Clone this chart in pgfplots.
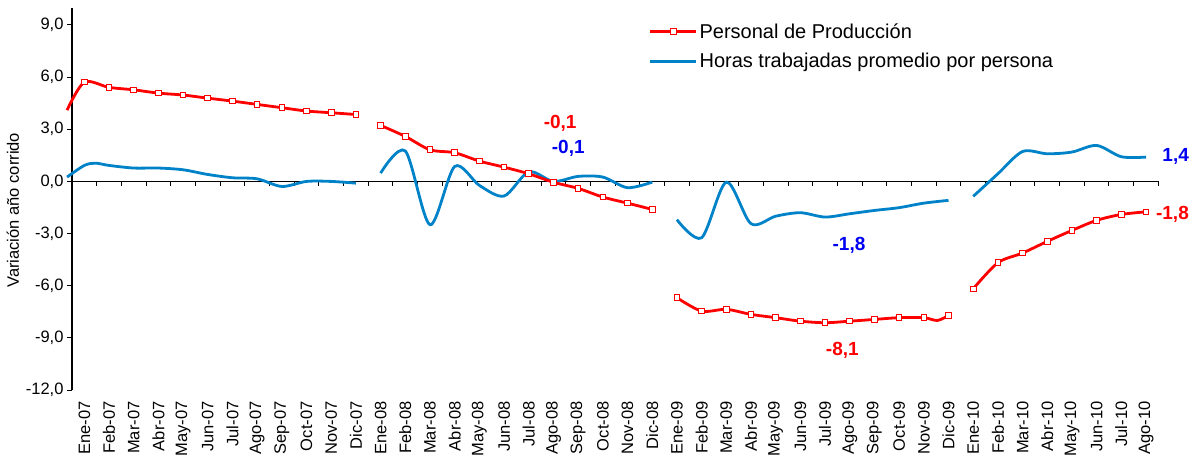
\documentclass[border=0pt]{standalone}
\usepackage{pgfplots}
\pgfplotsset{compat=1.18}
\usepackage{fontspec}
\setmainfont{Liberation Sans}
\definecolor{pers}{RGB}{255,0,0}
\definecolor{horas}{RGB}{0,130,200}
\definecolor{lblblue}{RGB}{0,0,240}

\begin{document}
\begin{tikzpicture}
\path[use as bounding box] (-72pt,-69pt) rectangle (1123pt,390pt);
\begin{axis}[
    at={(0pt,0pt)}, anchor=south west,
    scale only axis,
    width=1086.4pt, height=382.4pt,
    xmin=-0.5, xmax=43.5,
    ymin=-12, ymax=10,
    clip=false,
    axis y line*=left,
    axis x line*=bottom,
    x axis line style={draw=none},
    y axis line style={line width=1.2pt},
    xtick={0,...,43},
    xticklabels={Ene-07,Feb-07,Mar-07,Abr-07,May-07,Jun-07,Jul-07,Ago-07,Sep-07,Oct-07,Nov-07,Dic-07,
                 Ene-08,Feb-08,Mar-08,Abr-08,May-08,Jun-08,Jul-08,Ago-08,Sep-08,Oct-08,Nov-08,Dic-08,
                 Ene-09,Feb-09,Mar-09,Abr-09,May-09,Jun-09,Jul-09,Ago-09,Sep-09,Oct-09,Nov-09,Dic-09,
                 Ene-10,Feb-10,Mar-10,Abr-10,May-10,Jun-10,Jul-10,Ago-10},
    xtick style={draw=none},
    xticklabel style={rotate=90, anchor=east, font=\fontsize{16.5}{19}\selectfont},
    xticklabel shift=3pt,
    ytick={-12,-9,...,9},
    tick align=outside,
    major tick length=5pt,
    ytick style={line width=1pt, black},
    yticklabel style={font=\fontsize{16.5}{19}\selectfont,
        /pgf/number format/fixed, /pgf/number format/fixed zerofill,
        /pgf/number format/precision=1, /pgf/number format/use comma,
        /pgf/number format/assume math mode=true},
    ylabel={Variación año corrido},
    ylabel style={font=\fontsize{16.5}{19}\selectfont, at={(ticklabel cs:0.47)}},
    legend style={draw=none, fill=none, at={(rel axis cs:0.528,0.97)}, anchor=north west,
        font=\fontsize{20}{23}\selectfont, row sep=10pt, cells={anchor=west}},
    legend image code/.code={\draw[mark repeat=2, mark phase=2, #1] plot coordinates {(0pt,0pt) (23pt,0pt) (46pt,0pt)};},
]
% zero line with its ticks
\draw[line width=1.2pt] (axis cs:-0.5,0) -- (axis cs:43.5,0);
\pgfplotsinvokeforeach{0,...,44}{\draw[line width=1pt] (axis cs:#1-0.5,0) -- ++(0pt,-5pt);}

% Horas trabajadas promedio por persona
\addplot[horas, line width=2.8pt, smooth, forget plot] coordinates {
    (-0.7,0.25) (0,0.92) (0.45,1.05) (1,0.92) (2,0.77) (3,0.77) (4,0.67) (5,0.40)
    (6,0.21) (7,0.15) (8,-0.29) (9,0.0) (10,0.0) (11,-0.1)};
\addplot[horas, line width=2.8pt, smooth, forget plot] coordinates {
    (12,0.48) (13,1.75) (14,-2.49) (15,0.86) (16,-0.23) (17,-0.84) (18,0.55)
    (19,0.0) (20,0.29) (21,0.25) (22,-0.36) (23,-0.04)};
\addplot[horas, line width=2.8pt, smooth, forget plot] coordinates {
    (24,-2.2) (25,-3.24) (26,-0.04) (27,-2.43) (28,-2.0) (29,-1.8) (30,-2.05)
    (31,-1.86) (32,-1.67) (33,-1.51) (34,-1.25) (35,-1.09)};
\addplot[horas, line width=2.8pt, smooth, forget plot] coordinates {
    (36,-0.86) (37,0.44) (38,1.72) (39,1.59) (40,1.69) (41,2.07) (42,1.42) (43,1.40)};

% Personal de Produccion
\addplot[pers, line width=2.8pt, smooth, forget plot] coordinates {
    (-0.7,4.1) (0,5.71) (1,5.41) (2,5.27) (3,5.08) (4,4.97) (5,4.79) (6,4.62)
    (7,4.43) (8,4.24) (9,4.05) (10,3.95) (11,3.85)};
\addplot[pers, line width=2.8pt, smooth, forget plot] coordinates {
    (12,3.22) (13,2.59) (14,1.82) (15,1.65) (16,1.17) (17,0.82) (18,0.44)
    (19,-0.05) (20,-0.40) (21,-0.90) (22,-1.25) (23,-1.61)};
\addplot[pers, line width=2.8pt, smooth, forget plot] coordinates {
    (24,-6.69) (25,-7.46) (26,-7.36) (27,-7.65) (28,-7.84) (29,-8.04) (30,-8.13)
    (31,-8.04) (32,-7.94) (33,-7.84) (34,-7.84) (34.55,-8.0) (35,-7.71)};
\addplot[pers, line width=2.8pt, smooth, forget plot] coordinates {
    (36,-6.18) (37,-4.68) (38,-4.12) (39,-3.45) (40,-2.82) (41,-2.24) (42,-1.90) (43,-1.75)};
\addplot[only marks, mark=square*, mark size=2.8pt,
         mark options={draw=pers, fill=white, line width=1pt}, forget plot] coordinates {
    (0,5.71) (1,5.41) (2,5.27) (3,5.08) (4,4.97) (5,4.79) (6,4.62) (7,4.43) (8,4.24)
    (9,4.05) (10,3.95) (11,3.85)
    (12,3.22) (13,2.59) (14,1.82) (15,1.65) (16,1.17) (17,0.82) (18,0.44) (19,-0.05)
    (20,-0.40) (21,-0.90) (22,-1.25) (23,-1.61)
    (24,-6.69) (25,-7.46) (26,-7.36) (27,-7.65) (28,-7.84) (29,-8.04) (30,-8.13)
    (31,-8.04) (32,-7.94) (33,-7.84) (34,-7.84) (35,-7.71)
    (36,-6.18) (37,-4.68) (38,-4.12) (39,-3.45) (40,-2.82) (41,-2.24) (42,-1.90) (43,-1.75)};

% value labels
\node[text=pers, font=\bfseries\fontsize{19}{21}\selectfont] at (axis cs:19.27,3.34) {-0,1};
\node[text=lblblue, font=\bfseries\fontsize{19}{21}\selectfont] at (axis cs:19.6,1.9) {-0,1};
\node[text=lblblue, font=\bfseries\fontsize{19}{21}\selectfont] at (axis cs:30.97,-3.68) {-1,8};
\node[text=pers, font=\bfseries\fontsize{19}{21}\selectfont] at (axis cs:30.7,-9.72) {-8,1};
\node[text=lblblue, font=\bfseries\fontsize{19}{21}\selectfont] at (axis cs:44.2,1.44) {1,4};
\node[text=pers, font=\bfseries\fontsize{19}{21}\selectfont] at (axis cs:44.07,-1.92) {-1,8};

\addlegendimage{pers, line width=2.8pt, mark=square*, mark size=2.8pt,
    mark options={draw=pers, fill=white, line width=1pt}}
\addlegendentry{Personal de Producción}
\addlegendimage{horas, line width=2.8pt}
\addlegendentry{Horas trabajadas promedio por persona}
\end{axis}
\end{tikzpicture}
\end{document}
